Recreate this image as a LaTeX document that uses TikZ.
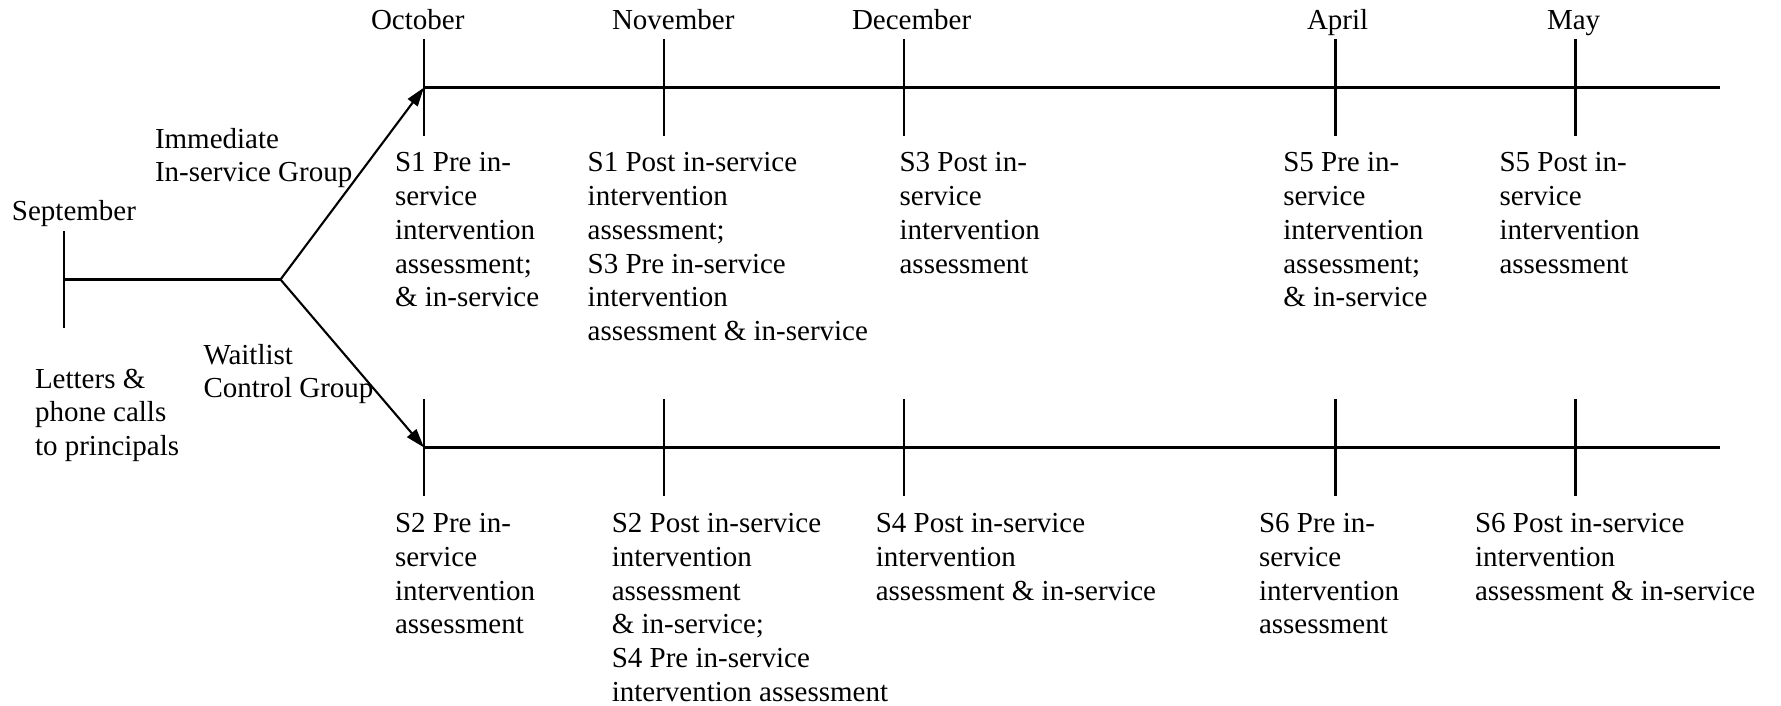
\documentclass[tikz,border=0pt]{standalone}
\usepackage{fontspec}
\setmainfont{Liberation Serif}
\usetikzlibrary{arrows.meta}
\begin{document}
\begin{tikzpicture}[x=1pt,y=-1pt,line width=2.1pt,
  lbl/.style={anchor=base west,inner sep=0pt,outer sep=0pt,align=left,font=\fontsize{29pt}{33.8pt}\selectfont},
  arr/.style={-{Triangle[length=19pt,width=12pt]}}]
\useasboundingbox (0,0) rectangle (1781,705);
% coordinates
\coordinate (sep) at (64,279.5);
\coordinate (fork) at (280.5,279.5);
\coordinate (oct1) at (424,87.5);
\coordinate (end1) at (1720,87.5);
\coordinate (oct2) at (424,447.5);
\coordinate (end2) at (1720,447.5);
% September
\draw (64,231) -- (64,328);
\draw (sep) -- (fork);
\draw[arr] (fork) -- (oct1);
\draw[arr] (fork) -- (oct2);
\draw (oct1) -- (end1);
\draw (oct2) -- (end2);
% ticks
\foreach \x in {424,664,904,1335.5,1575.5}{
  \draw (\x,39) -- (\x,136);
  \draw (\x,399) -- (\x,496);
}
% month labels
\node[lbl] (msep) at (12,220) {September};
\node[lbl] (moct) at (371,29.5) {October};
\node[lbl] (mnov) at (612,29.5) {November};
\node[lbl] (mdec) at (852,29.5) {December};
\node[lbl] (mapr) at (1307,29.5) {April};
\node[lbl] (mmay) at (1547,29.5) {May};
% left labels (anchor = baseline of last line)
\node[lbl] (imm) at (155,181.8) {Immediate\\In-service Group};
\node[lbl] (wait) at (203.5,397.8) {Waitlist\\Control Group};
\node[lbl] (let) at (35,455.6) {Letters \&\\phone calls\\to principals};
% upper texts
\node[lbl] (s1) at (395,306.9) {S1 Pre in-\\service\\intervention\\assessment;\\\& in-service};
\node[lbl] (s1p) at (587.7,340.7) {S1 Post in-service\\intervention\\assessment;\\S3 Pre in-service\\intervention\\assessment \& in-service};
\node[lbl] (s3p) at (899.6,273.1) {S3 Post in-\\service\\intervention\\assessment};
\node[lbl] (s5) at (1283.3,306.9) {S5 Pre in-\\service\\intervention\\assessment;\\\& in-service};
\node[lbl] (s5p) at (1499.5,273.1) {S5 Post in-\\service\\intervention\\assessment};
% lower texts
\node[lbl] (s2) at (395,633.9) {S2 Pre in-\\service\\intervention\\assessment};
\node[lbl] (s2p) at (611.8,701.5) {S2 Post in-service\\intervention\\assessment\\\& in-service;\\S4 Pre in-service\\intervention assessment};
\node[lbl] (s4p) at (875.8,600.1) {S4 Post in-service\\intervention\\assessment \& in-service};
\node[lbl] (s6) at (1259,633.9) {S6 Pre in-\\service\\intervention\\assessment};
\node[lbl] (s6p) at (1475,600.1) {S6 Post in-service\\intervention\\assessment \& in-service};
\end{tikzpicture}
\end{document}
